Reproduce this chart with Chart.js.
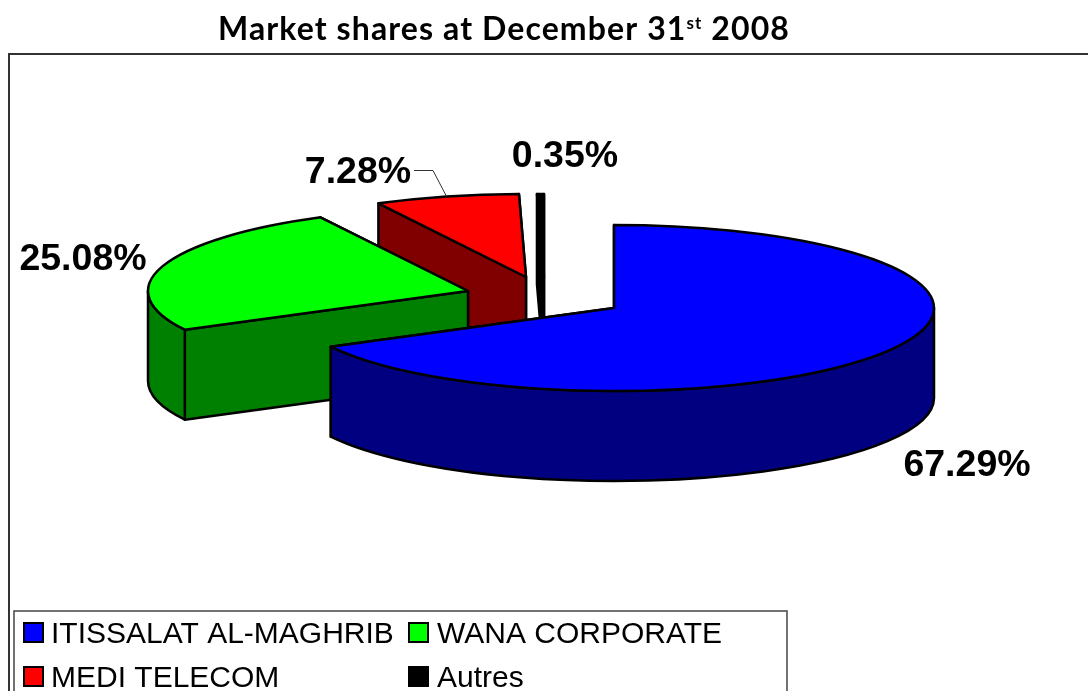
<!DOCTYPE html>
<html>
<head>
<meta charset="utf-8">
<style>html,body{margin:0;padding:0;background:#fff;overflow:hidden}canvas{display:block}</style>
<script src="https://cdn.jsdelivr.net/npm/chart.js@4"></script>
</head>
<body>
<canvas id="c" width="1088" height="691"></canvas>
<script>
const categories = ['ITISSALAT AL-MAGHRIB', 'WANA CORPORATE', 'MEDI TELECOM', 'Autres'];
const shares = [67.29, 25.08, 7.28, 0.35];
const shareLabels = ['67.29%', '25.08%', '7.28%', '0.35%'];
const topColors = ['#0000ff', '#00ff00', '#ff0000', '#000000'];
const sideColors = ['#000080', '#008000', '#800000', '#000000'];
const titleParts = ['Market shares at December 31', 'st', ' 2008'];

// 3D projection styling
const xStretch = 320 / 83;
const depth = 90;
const explodeX = [0, -146, -88, -70];
const explodeY = [0, -17, -31, -31];
const labelDX = [353, -531, -256, -49];
const labelDY = [168, -38, -125, -141];

function rim(el, i, a, extra) {
  return [el.x + explodeX[i] + el.outerRadius * xStretch * Math.cos(a),
          el.y + explodeY[i] + el.outerRadius * Math.sin(a) + (extra || 0)];
}

function strokeFill(ctx, fill) {
  ctx.fillStyle = fill; ctx.fill(); ctx.stroke();
}

function radialFace(ctx, el, i, a) {
  const cx = el.x + explodeX[i], cy = el.y + explodeY[i];
  const p = rim(el, i, a);
  ctx.beginPath();
  ctx.moveTo(cx, cy); ctx.lineTo(p[0], p[1]);
  ctx.lineTo(p[0], p[1] + depth); ctx.lineTo(cx, cy + depth);
  ctx.closePath();
  strokeFill(ctx, sideColors[i]);
}

function curvedWall(ctx, el, i) {
  const a0 = Math.max(el.startAngle, 0), a1 = Math.min(el.endAngle, Math.PI);
  if (a1 <= a0) return;
  const cx = el.x + explodeX[i], cy = el.y + explodeY[i];
  const rx = el.outerRadius * xStretch, ry = el.outerRadius;
  ctx.beginPath();
  ctx.ellipse(cx, cy, rx, ry, 0, a0, a1);
  ctx.ellipse(cx, cy + depth, rx, ry, 0, a1, a0, true);
  ctx.closePath();
  strokeFill(ctx, sideColors[i]);
}

const pie3d = {
  id: 'pie3d',
  beforeDatasetDraw() { return false; },
  afterDatasetsDraw(chart) {
    const ctx = chart.ctx;
    const els = chart.getDatasetMeta(0).data;
    ctx.save();
    ctx.lineJoin = 'round';
    ctx.lineWidth = 2.5;
    ctx.strokeStyle = '#000';
    for (let i = els.length - 1; i >= 0; i--) {
      const el = els[i];
      radialFace(ctx, el, i, el.endAngle);
      radialFace(ctx, el, i, el.startAngle);
      curvedWall(ctx, el, i);
      // top face: the library's own arc, squashed into an ellipse
      ctx.save();
      ctx.translate(el.x + explodeX[i], el.y + explodeY[i]);
      ctx.scale(xStretch, 1);
      ctx.translate(-el.x, -el.y);
      el.draw(ctx);
      ctx.restore();
      // uniform outline of the top face
      const cx = el.x + explodeX[i], cy = el.y + explodeY[i];
      ctx.beginPath();
      ctx.moveTo(cx, cy);
      ctx.ellipse(cx, cy, el.outerRadius * xStretch, el.outerRadius, 0, el.startAngle, el.endAngle);
      ctx.closePath();
      ctx.stroke();
    }
    ctx.restore();
  },
  afterDraw(chart) {
    const ctx = chart.ctx;
    const els = chart.getDatasetMeta(0).data;
    ctx.save();
    // leader line of the red slice
    ctx.strokeStyle = '#333'; ctx.lineWidth = 1;
    const p = rim(els[2], 2, (els[2].startAngle + els[2].endAngle) / 2);
    ctx.beginPath();
    ctx.moveTo(414, 170.5); ctx.lineTo(433, 170.5); ctx.lineTo(p[0], p[1]);
    ctx.stroke();
    // value labels
    ctx.fillStyle = '#000';
    ctx.font = 'bold 37.5px "Liberation Sans"';
    ctx.textAlign = 'center'; ctx.textBaseline = 'alphabetic';
    els.forEach((el, i) => {
      ctx.fillText(shareLabels[i], el.x + labelDX[i], el.y + labelDY[i]);
    });
    // title
    ctx.textAlign = 'left';
    let x = 218;
    const big = 'bold 32px Lato', small = 'bold 17px Lato';
    ctx.letterSpacing = '1.1px';
    ctx.font = big; ctx.fillText(titleParts[0], x, 40); x += ctx.measureText(titleParts[0]).width;
    ctx.font = small; ctx.fillText(titleParts[1], x, 29); x += ctx.measureText(titleParts[1]).width;
    ctx.font = big; ctx.fillText(titleParts[2], x, 40);
    ctx.letterSpacing = '0px';
    // outer frame
    ctx.strokeStyle = '#333'; ctx.lineWidth = 2;
    ctx.strokeRect(9, 54, 1100, 660);
    // legend
    ctx.fillStyle = '#fff'; ctx.strokeStyle = '#444'; ctx.lineWidth = 1.5;
    ctx.fillRect(14, 611, 773, 100); ctx.strokeRect(14, 611, 773, 100);
    ctx.font = '30px "Liberation Sans"';
    const colX = [24, 409], textGap = [27, 28], rowY = [623, 667];
    chart.data.labels.forEach((t, i) => {
      const bx = colX[i % 2], by = rowY[Math.floor(i / 2)];
      ctx.fillStyle = topColors[i]; ctx.strokeStyle = '#000'; ctx.lineWidth = 2;
      ctx.fillRect(bx, by, 19, 19); ctx.strokeRect(bx, by, 19, 19);
      ctx.fillStyle = '#000';
      ctx.fillText(t, bx + textGap[i % 2], by + 20);
    });
    ctx.restore();
  }
};

new Chart(document.getElementById('c'), {
  type: 'pie',
  data: {
    labels: categories,
    datasets: [{ data: shares, backgroundColor: topColors, borderWidth: 0 }]
  },
  options: {
    responsive: false,
    animation: false,
    layout: { padding: { left: 531, right: 391, top: 225, bottom: 300 } },
    plugins: { legend: { display: false }, title: { display: false }, tooltip: { enabled: false } }
  },
  plugins: [pie3d]
});
</script>
</body>
</html>
